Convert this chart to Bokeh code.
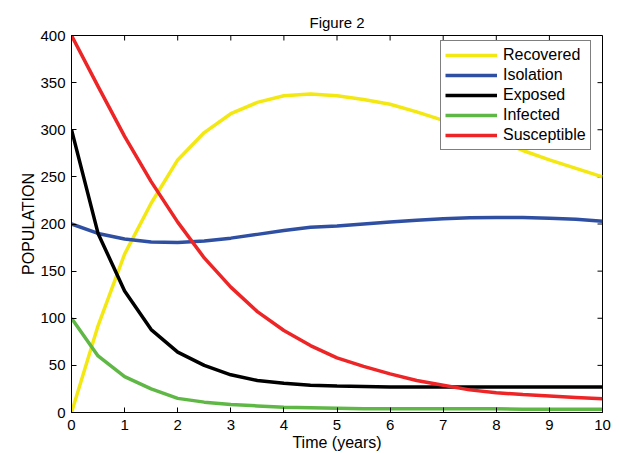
import math
from bokeh.plotting import figure
from bokeh.models import Range1d, FixedTicker, Legend, LegendItem
from bokeh.embed import file_html
from bokeh.resources import INLINE

# ---- data ----
time = [0, 0.5, 1, 1.5, 2, 2.5, 3, 3.5, 4, 4.5, 5, 5.5, 6, 6.5, 7, 7.5, 8, 8.5, 9, 9.5, 10]
recovered = [0, 92, 168, 222, 268, 297, 317, 329, 336, 338, 336, 332, 327, 319, 310, 300, 289, 278, 268, 259, 250]
isolation = [200, 190, 184, 181, 180.5, 182, 185, 189, 193, 196.5, 198, 200, 202, 204, 205.5, 206.5, 207, 207, 206, 205, 203]
exposed = [300, 190, 129, 88, 64, 50, 40, 34, 31, 29, 28, 27.5, 27, 27, 27, 27, 27, 27, 27, 27, 27]
infected = [100, 60, 38, 25, 15, 11, 8.5, 7, 5.5, 5, 4.5, 4, 4, 4, 4, 4, 4, 3.5, 3.5, 3.5, 3.5]
susceptible = [400, 346, 293, 245, 202, 164, 133, 107, 87, 71, 58, 49, 41, 34, 29, 24, 21, 19, 17.5, 16, 14.5]

series_names = ["Recovered", "Isolation", "Exposed", "Infected", "Susceptible"]
series_values = [recovered, isolation, exposed, infected, susceptible]
series_colors = ["#f4e812", "#2f50a2", "#000000", "#5fb845", "#ee2526"]

x_ticks = [0, 1, 2, 3, 4, 5, 6, 7, 8, 9, 10]
y_ticks = [0, 50, 100, 150, 200, 250, 300, 350, 400]

FONT = "Liberation Sans"

p = figure(width=619, height=453, output_backend="svg", toolbar_location=None,
           x_range=Range1d(x_ticks[0], x_ticks[-1]), y_range=Range1d(y_ticks[0], y_ticks[-1]),
           title="Figure 2",
           min_border_left=71, min_border_right=17, min_border_top=35, min_border_bottom=41)

p.title.align = "center"
p.title.text_font = FONT
p.title.text_font_style = "normal"
p.title.text_font_size = "15px"
p.title.text_color = "#000000"
p.title.standoff = 9

p.xgrid.visible = False
p.ygrid.visible = False
p.outline_line_color = "#000000"
p.outline_line_width = 1
p.background_fill_color = "white"
p.border_fill_color = "white"

def style_axis(ax):
    ax.major_tick_in = 5
    ax.major_tick_out = 0
    ax.minor_tick_in = 0
    ax.minor_tick_out = 0
    ax.axis_line_color = "#000000"
    ax.major_tick_line_color = "#000000"
    ax.major_label_text_font = FONT
    ax.major_label_text_font_size = "15px"
    ax.major_label_text_color = "#000000"
    ax.axis_label_text_font = FONT
    ax.axis_label_text_font_size = "16px"
    ax.axis_label_text_font_style = "normal"
    ax.axis_label_text_color = "#000000"

p.xaxis.ticker = FixedTicker(ticks=x_ticks)
p.yaxis.ticker = FixedTicker(ticks=y_ticks)
p.xaxis.axis_label = "Time (years)"
p.yaxis.axis_label = "POPULATION"
style_axis(p.xaxis[0])
style_axis(p.yaxis[0])
p.xaxis.major_label_standoff = 7
p.xaxis.axis_label_standoff = 1
p.yaxis.major_label_standoff = 6
p.yaxis.axis_label_standoff = 0

# inward ticks on the top and right edges of the box (MATLAB "box on")
p.ray(x=x_ticks, y=[y_ticks[-1]] * len(x_ticks), length=5, length_units="screen",
      angle=-math.pi / 2, line_color="#000000", line_width=1)
p.ray(x=[x_ticks[-1]] * len(y_ticks), y=y_ticks, length=5, length_units="screen",
      angle=math.pi, line_color="#000000", line_width=1)

renderers = {}
for name, vals, col in zip(series_names, series_values, series_colors):
    renderers[name] = p.line(time, vals, line_color=col, line_width=3.5)

items = [LegendItem(label=name, renderers=[renderers[name]]) for name in series_names]

legend = Legend(items=items, location=(369, 262))
legend.padding = 4
legend.spacing = 0
legend.label_height = 20
legend.glyph_height = 20
legend.glyph_width = 52
legend.label_standoff = 6
legend.label_text_font = FONT
legend.label_text_font_size = "16px"
legend.label_text_color = "#000000"
legend.border_line_color = "#000000"
legend.border_line_width = 1
legend.background_fill_color = "white"
legend.background_fill_alpha = 1.0
p.add_layout(legend, "center")

open("out.html", "w").write(file_html(p, INLINE))
